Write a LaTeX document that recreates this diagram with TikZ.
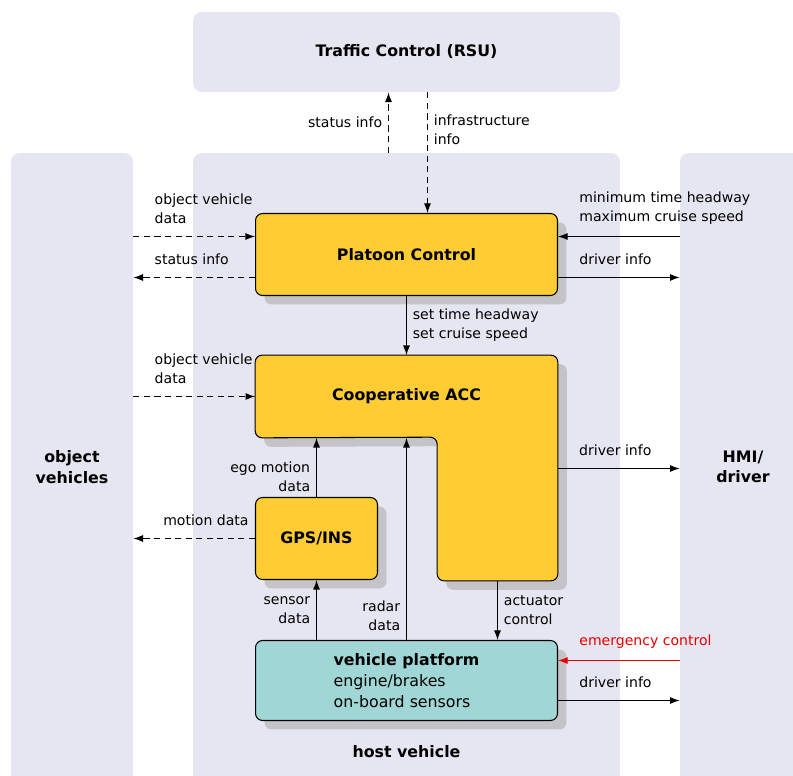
\documentclass[tikz,border=0pt]{standalone}
\usepackage{fontspec}
\setmainfont{DejaVu Sans}
\usetikzlibrary{arrows.meta, shadows}
\definecolor{regionBlue}{RGB}{230,230,242}
\definecolor{boxYellow}{RGB}{255,204,51}
\definecolor{boxTeal}{RGB}{160,214,214}
\definecolor{shadowGray}{RGB}{195,195,200}
\definecolor{alertRed}{RGB}{230,0,0}

\begin{document}
\begin{tikzpicture} [x = 0.02cm, y = -0.02cm, font = \fontsize{8}{10.8}\selectfont,
	region/.style = {fill = regionBlue, rounded corners = 5pt, inner sep = 0pt},
	box/.style = {draw, line width = 0.6pt, fill = boxYellow, rounded corners = 4pt, inner sep = 0pt,
		drop shadow = {shadow xshift = 0.18cm, shadow yshift = -0.18cm, fill = shadowGray, opacity = 1}},
	title/.style = {font = \fontsize{9}{11.5}\selectfont\bfseries, align = center},
	flow/.style = {line width = 0.6pt, -{Latex[length = 5.5pt, width = 4pt]}},
	dataflow/.style = {flow, dash pattern = on 3.5pt off 2.5pt},
	lbl/.style = {anchor = south west, xshift = 0.3cm, yshift = 0.12cm, align = left}]

	\useasboundingbox (0, 0) rectangle (793, 776);

% Regions.

	\node [region, minimum width = 8.54cm, minimum height = 1.6cm] (rsu) at (406.5, 52) {};
	\node [region, minimum width = 8.54cm, minimum height = 13.08cm] (host) at (406.5, 480) {};
	\node [region, minimum width = 2.44cm, minimum height = 13.08cm] (objveh) at (72, 480) {};
	\node [region, minimum width = 2.52cm, minimum height = 13.08cm] (hmi) at (743, 480) {};

	\node [title] (rsuText) at (rsu) {Traffic Control (RSU)};
	\node [title] (objvehText) at (72, 467) {object\\vehicles};
	\node [title] (hmiText) at (743, 467) {HMI/\\driver};
	\node [title] (hostText) at (406.5, 752) {host vehicle};

% Boxes.

	\node [box, title, minimum width = 6.04cm, minimum height = 1.64cm] (platoon) at (406.5, 254.5) {Platoon Control};

	%L-shaped ACC
	\node [inner sep = 0pt, minimum width = 6.04cm, minimum height = 1.64cm] (acc) at (406.5, 396.5) {};
	\node [inner sep = 0pt, minimum width = 2.4cm, minimum height = 2.86cm] (accArm) at (497.5, 509) {};
	\draw [box] (acc.north west) -- (acc.north east) -- (accArm.south east) -- (accArm.south west)
		-- (accArm.north west) -- (acc.south west) -- cycle;
	\node [title] (accText) at (acc) {Cooperative ACC};

	\node [box, title, minimum width = 2.44cm, minimum height = 1.64cm] (gps) at (316.5, 538.5) {GPS/INS};
	\node [box, fill = boxTeal, minimum width = 6.04cm, minimum height = 1.6cm, align = left,
		font = \fontsize{9}{12}\selectfont] (platform) at (406.5, 680.5) {\textbf{vehicle platform}\\engine/brakes\\on-board sensors};

% Draw lines.

	%traffic control
	\draw [dataflow] ([xshift = -0.36cm] host.north) -- ([xshift = -0.36cm] rsu.south) node [midway, left] {status info};
	\draw [dataflow] ([xshift = 0.42cm] rsu.south) -- ([xshift = 0.42cm] platoon.north) node [pos = 0.31, right, align = left] {infrastructure\\info};

	%platoon control
	\draw [dataflow] ([yshift = 0.36cm] platoon.west -| objveh.east) -- ([yshift = 0.36cm] platoon.west) node [pos = 0, lbl] {object vehicle\\data};
	\draw [dataflow] ([yshift = -0.46cm] platoon.west) -- ([yshift = -0.46cm] platoon.west -| objveh.east) node [pos = 1, lbl] {status info};
	\draw [flow] ([yshift = 0.36cm] platoon.east -| hmi.west) -- ([yshift = 0.36cm] platoon.east) node [pos = 1, lbl] {minimum time headway\\maximum cruise speed};
	\draw [flow] ([yshift = -0.46cm] platoon.east) -- ([yshift = -0.46cm] platoon.east -| hmi.west) node [pos = 0, lbl] {driver info};
	\draw [flow] (platoon.south) -- (acc.north) node [midway, right, align = left] {set time headway\\set cruise speed};

	%cooperative ACC
	\draw [dataflow] (acc.west -| objveh.east) -- (acc.west) node [pos = 0, lbl] {object vehicle\\data};
	\draw [flow] ([yshift = 0.81cm] accArm.east) -- ([yshift = 0.81cm] accArm.east -| hmi.west) node [pos = 0, lbl] {driver info};

	%GPS/INS
	\draw [flow] (gps.north) -- (gps.north |- acc.south) node [pos = 0.35, left, align = right] {ego motion\\data};
	\draw [dataflow] (gps.west) -- (gps.west -| objveh.east) node [pos = 0, anchor = south east, yshift = 0.12cm] {motion data};

	%vehicle platform
	\draw [flow] (gps.south |- platform.north) -- (gps.south) node [midway, left, align = right] {sensor\\data};
	\draw [flow] (platform.north) -- (acc.south) node [pos = 0.12, left, align = right] {radar\\data};
	\draw [flow] (accArm.south) -- (accArm.south |- platform.north) node [midway, right, align = left] {actuator\\control};
	\draw [flow, alertRed] ([yshift = 0.4cm] platform.east -| hmi.west) -- ([yshift = 0.4cm] platform.east) node [pos = 1, lbl] {emergency control};
	\draw [flow] ([yshift = -0.4cm] platform.east) -- ([yshift = -0.4cm] platform.east -| hmi.west) node [pos = 0, lbl] {driver info};

\end{tikzpicture}
\end{document}
